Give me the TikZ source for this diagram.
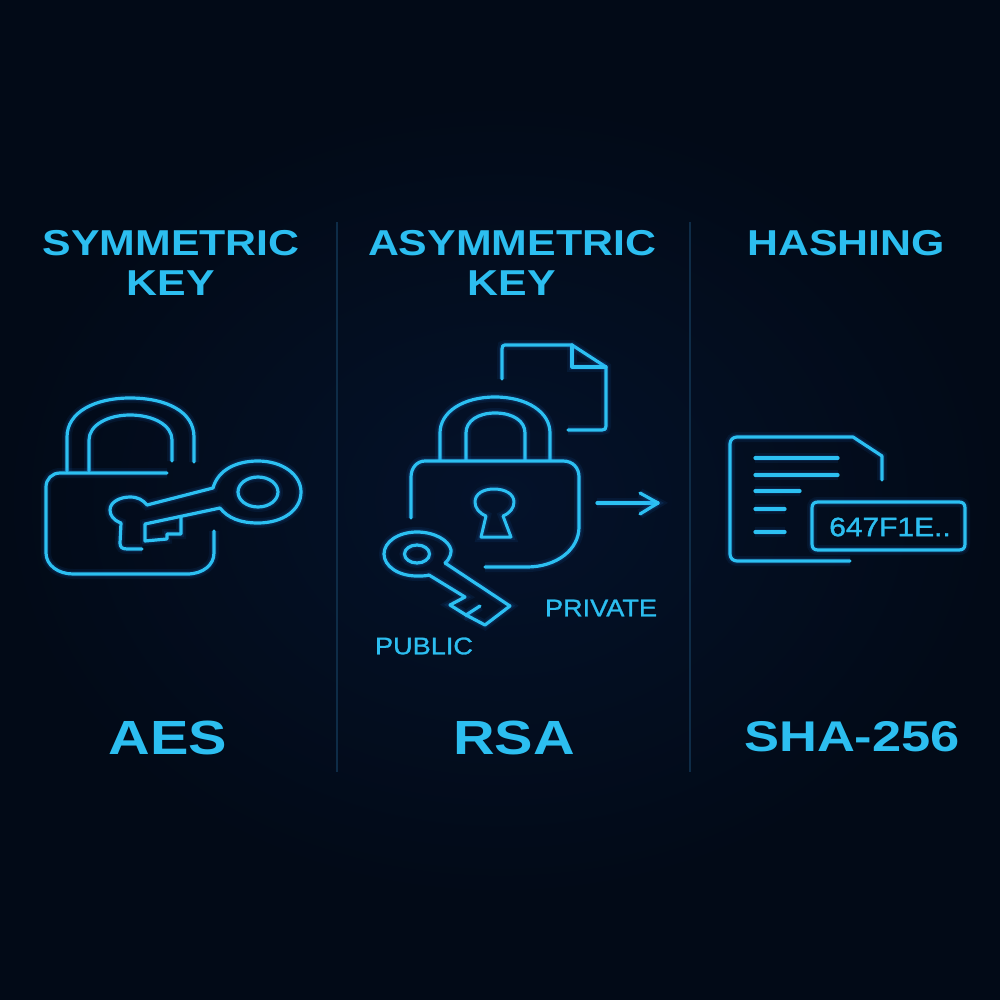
\documentclass[tikz,border=0pt]{standalone}
\usepackage{fontspec}
\setmainfont{Liberation Sans}
\newfontfamily\headf[FakeStretch=1.19,BoldFont={Liberation Sans Bold}]{Liberation Sans}
\newfontfamily\algof[FakeStretch=1.2]{Liberation Sans}
\newfontfamily\shaf[FakeStretch=1.22]{Liberation Sans}
\newfontfamily\tagf[FakeStretch=1.13,FakeBold=1.2]{Liberation Sans}
\newfontfamily\hashf[FakeStretch=1.13,FakeBold=1.4]{Liberation Sans}
\definecolor{bgc}{HTML}{020A17}
\definecolor{bgmid}{HTML}{04122A}
\definecolor{neon}{HTML}{2CC0F2}
\definecolor{txtc}{HTML}{2CBEF0}
\definecolor{divc}{HTML}{0E2C47}
\tikzset{
  neonline/.style={draw=neon,line width=3.2,line cap=round,line join=round,
    preaction={draw=neon!70!blue,line width=10,opacity=.08},
    preaction={draw=neon!70!blue,line width=6,opacity=.12}},
  thinline/.style={neonline,line width=3},
  divider/.style={draw=divc,line width=1.2},
  head/.style={text=txtc,font=\headf\bfseries\fontsize{36}{36}\selectfont,inner sep=0,anchor=center},
  algo/.style={text=txtc,font=\algof\bfseries\fontsize{48}{48}\selectfont,inner sep=0,anchor=center},
  shaalgo/.style={text=txtc,font=\shaf\bfseries\fontsize{43}{43}\selectfont,inner sep=0,anchor=center},
  tag/.style={text=txtc,font=\tagf\fontsize{24}{24}\selectfont,inner sep=0,anchor=center},
}
\begin{document}
\begin{tikzpicture}[x=1pt,y=-1pt]
\useasboundingbox (0,0) rectangle (1000,1000);
\fill[bgc] (0,0) rectangle (1000,1000);
\shade[inner color=bgmid,outer color=bgc] (0,100) rectangle (1000,900);
% dividers
\draw[divider] (337,222) -- (337,772);
\draw[divider] (690,222) -- (690,772);
% headings
\node[head] (h1a) at (171,243) {SYMMETRIC};
\node[head] (h1b) at (171,283) {KEY};
\node[head] (h2a) at (512,243) {ASYMMETRIC};
\node[head] (h2b) at (512,283) {KEY};
\node[head] (h3a) at (846,243) {HASHING};
\node[algo] (a1) at (168,738) {AES};
\node[algo] (a2) at (514,738) {RSA};
\node[shaalgo] (a3) at (852,737) {SHA-256};
% --- symmetric lock
\path[neonline] (67,471) -- (67,437) .. controls (67,412) and (95,398) .. (130,398) .. controls (167,398) and (194,412) .. (194,437) -- (194,462);
\path[neonline] (89,471) -- (89,440) .. controls (89,425) and (108,415) .. (130,415) .. controls (153,415) and (172,425) .. (172,440) -- (172,461);
\path[neonline] (167,473) -- (60,473) .. controls (52,473) and (46,479) .. (46,487) -- (46,553) .. controls (46,565) and (58,574) .. (73,574) -- (187,574) .. controls (203,574) and (214,565) .. (214,553) -- (214,531);
% key
\path[neonline] (142,549) -- (127,549) .. controls (122,549) and (120,547) .. (120,543) -- (121,523) .. controls (113,520) and (110,515) .. (110,510) .. controls (110,502) and (120,497) .. (130,497) .. controls (138,497) and (143,500) .. (147,505) -- (213,488) .. controls (218,470) and (236,461) .. (258,461) .. controls (283,461) and (301,475) .. (301,492) .. controls (301,510) and (283,523) .. (258,523) .. controls (240,523) and (228,518) .. (220,508) -- (145,524) -- (145,541) -- (167,539) -- (167,534) -- (181,534) -- (181,518);
\path[neonline] (258,492) ellipse [x radius=20,y radius=15];
% --- asymmetric doc
\path[neonline] (502,379) -- (502,349) .. controls (502,346) and (503,345) .. (505,345) -- (572,345) -- (606,367) -- (606,426) .. controls (606,429) and (605,430) .. (602,430) -- (568,430);
\path[neonline] (572,345) -- (572,367) -- (606,367);
% lock
\path[neonline] (440,460) -- (440,433) .. controls (440,412) and (463,397) .. (495,397) .. controls (527,397) and (550,412) .. (550,433) -- (550,460);
\path[neonline] (466,460) -- (466,433) .. controls (466,421) and (478,413) .. (495,413) .. controls (513,413) and (525,421) .. (525,433) -- (525,460);
\path[neonline] (411,518) -- (411,477) .. controls (411,468) and (417,461) .. (425,461) -- (563,461) .. controls (573,461) and (579,468) .. (579,477) -- (579,527) .. controls (579,550) and (556,567) .. (527,567) -- (485,567);
\path[thinline] (486,516) .. controls (479,513) and (475,508) .. (475,502) .. controls (475,494) and (483,489) .. (494,489) .. controls (505,489) and (514,494) .. (514,502) .. controls (514,508) and (510,513) .. (503,516) -- (511,537) -- (481,537) -- cycle;
\path[neonline] (445,563) .. controls (451,558) and (451,552) .. (451,550) .. controls (449,540) and (434,532) .. (417,532) .. controls (398,532) and (384,542) .. (384,554) .. controls (384,566) and (398,576) .. (417,576) .. controls (422,576) and (426,576) .. (429,575) -- (465,597) -- (450,605) -- (466,615) -- (480,606);
\path[neonline] (445,563) -- (510,606) -- (485,625) -- (466,615);
\path[neonline] (417,554) ellipse [x radius=12.5,y radius=9];
% arrow
\coordinate (arS) at (597,503);
\coordinate (arE) at (658,503);
\path[neonline] (arS) -- (arE);
\path[neonline] (640,493) -- (arE) -- (640,514);
\node[tag] (pub) at (424,646) {PUBLIC};
\node[tag] (priv) at (601,608) {PRIVATE};
% --- hashing doc
\path[neonline] (850,561) -- (737,561) .. controls (733,561) and (730,558) .. (730,554) -- (730,444) .. controls (730,440) and (733,437) .. (737,437) -- (853,437) -- (882,456) -- (882,480);
\path[neonline] (755,458) -- (838,458);
\path[neonline] (755,475) -- (838,475);
\path[neonline] (755,491) -- (800,491);
\path[neonline] (755,509) -- (785,509);
\path[neonline] (755,532) -- (785,532);
\path[neonline] (812,508) .. controls (812,504) and (814,502) .. (818,502) -- (959,502) .. controls (963,502) and (965,504) .. (965,508) -- (965,544) .. controls (965,548) and (963,550) .. (959,550) -- (818,550) .. controls (814,550) and (812,548) .. (812,544) -- cycle;
\node[text=txtc,font=\hashf\fontsize{26.5}{26.5}\selectfont,inner sep=0] (hash) at (890,527) {647F1E..};
\end{tikzpicture}
\end{document}
